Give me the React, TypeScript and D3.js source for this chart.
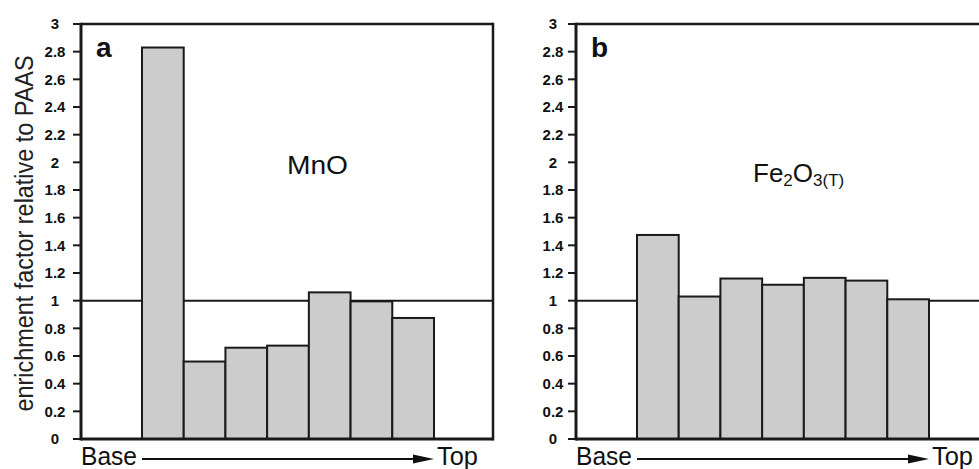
import React from "react";
import * as d3 from "d3";

const samples = ["1", "2", "3", "4", "5", "6", "7"];
const mnoValues = [2.83, 0.56, 0.66, 0.675, 1.06, 0.995, 0.875];
const fe2o3Values = [1.475, 1.03, 1.16, 1.115, 1.165, 1.145, 1.01];
const yTicks = [0, 0.2, 0.4, 0.6, 0.8, 1, 1.2, 1.4, 1.6, 1.8, 2, 2.2, 2.4, 2.6, 2.8, 3];
const yTitle = "enrichment factor relative to PAAS";

const W = 979;
const H = 469;
const FONT = "'Liberation Sans', Arial, Helvetica, sans-serif";

const y = d3.scaleLinear().domain([0, 3]).range([439, 24]);

type PanelProps = {
  dx: number;
  values: number[];
  letter: string;
  rightEdge: number;
  showRight: boolean;
  label: React.ReactNode;
  labelCenter: number;
};

function Panel({ dx, values, letter, rightEdge, showRight, label, labelCenter }: PanelProps) {
  const axisX = 81 + dx;
  const x = d3.scaleBand<string>().domain(samples).range([142 + dx, 434 + dx]).padding(0);
  const y0 = y(0);
  const y3 = y(3);
  const y1 = y(1);
  const arrowStart = 142 + dx;
  const arrowEnd = 434 + dx;
  const arrowY = 459;
  return (
    <g>
      <line x1={axisX} x2={rightEdge} y1={y1} y2={y1} stroke="#1a1a1a" strokeWidth={2} />
      {values.map((v, i) => (
        <rect
          key={i}
          x={x(samples[i])}
          y={y(v)}
          width={x.bandwidth()}
          height={y0 - y(v)}
          fill="#cccccc"
          stroke="#1a1a1a"
          strokeWidth={2}
        />
      ))}
      <line x1={axisX} x2={rightEdge} y1={y3} y2={y3} stroke="#1a1a1a" strokeWidth={2.5} />
      <line x1={axisX} x2={rightEdge} y1={y0} y2={y0} stroke="#1a1a1a" strokeWidth={3} />
      {showRight && (
        <line x1={rightEdge} x2={rightEdge} y1={y3 - 1.2} y2={y0 + 1.5} stroke="#1a1a1a" strokeWidth={2.5} />
      )}
      <line x1={axisX} x2={axisX} y1={y3 - 1.2} y2={y0 + 1.5} stroke="#1a1a1a" strokeWidth={3} />
      {yTicks.map((t) => (
        <g key={t}>
          <line x1={axisX - 8} x2={axisX} y1={y(t)} y2={y(t)} stroke="#1a1a1a" strokeWidth={2} />
          <text
            x={labelCenter}
            y={y(t)}
            dy="0.36em"
            textAnchor="middle"
            fontFamily={FONT}
            fontWeight="bold"
            fontSize={15}
            fill="#111"
          >
            {d3.format("~g")(t)}
          </text>
        </g>
      ))}
      <text x={96 + dx} y={57} fontFamily={FONT} fontWeight="bold" fontSize={28} fill="#111">
        {letter}
      </text>
      {label}
      <text x={axisX} y={465} fontFamily={FONT} fontSize={25} fill="#111" textLength={56} lengthAdjust="spacingAndGlyphs">
        Base
      </text>
      <line x1={arrowStart} x2={arrowEnd - 18} y1={arrowY} y2={arrowY} stroke="#111" strokeWidth={2} />
      <path
        d={`M${arrowEnd},${arrowY} L${arrowEnd - 21},${arrowY - 4.5} L${arrowEnd - 21},${arrowY + 4.5} Z`}
        fill="#111"
      />
      <text x={arrowEnd + 3} y={465} fontFamily={FONT} fontSize={25} fill="#111" textLength={41} lengthAdjust="spacingAndGlyphs">
        Top
      </text>
    </g>
  );
}

export default function App() {
  return (
    <svg
      width={W}
      height={H}
      viewBox={`0 0 ${W} ${H}`}
      style={{ position: "absolute", left: 0, top: 0, background: "#fff", display: "block" }}
    >
      <rect x={0} y={0} width={W} height={H} fill="#fff" />
      <text
        transform={`translate(33, ${y(1.5) + 2}) scale(1.3, 1) rotate(-90)`}
        textAnchor="middle"
        fontFamily={FONT}
        fontSize={20}
        fill="#222"
        textLength={356}
        lengthAdjust="spacingAndGlyphs"
      >
        {yTitle}
      </text>
      <Panel
        dx={0}
        values={mnoValues}
        letter="a"
        rightEdge={493}
        showRight={true}
        labelCenter={55}
        label={
          <text x={287} y={174} fontFamily={FONT} fontSize={26} fill="#111" textLength={61} lengthAdjust="spacingAndGlyphs">
            MnO
          </text>
        }
      />
      <Panel
        dx={495}
        values={fe2o3Values}
        letter="b"
        rightEdge={985}
        showRight={false}
        labelCenter={553}
        label={
          <text x={753} y={182} fontFamily={FONT} fontSize={26} fill="#111">
            Fe
            <tspan fontSize={17} dy={4}>2</tspan>
            <tspan fontSize={26} dy={-4}>O</tspan>
            <tspan fontSize={17} dy={4}>3(T)</tspan>
          </text>
        }
      />
    </svg>
  );
}
